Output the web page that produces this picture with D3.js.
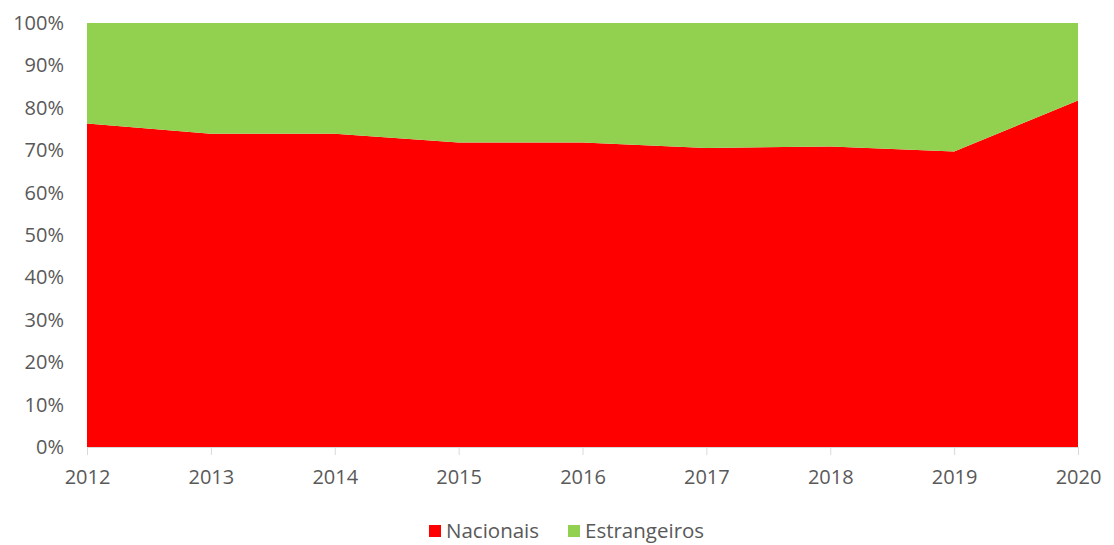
<!DOCTYPE html>
<html>
  <head>
    <meta charset="utf-8">
    <script src="https://d3js.org/d3.v7.min.js"></script>
    <style>
      body { margin: 0; background: #fff; }
      text { font-family: "Open Sans", "Liberation Sans", sans-serif; fill: #595959; }
    </style>
  </head>
  <body>
    <svg width="1114" height="545"></svg>
    <script>
    // data
    var years = [2012, 2013, 2014, 2015, 2016, 2017, 2018, 2019, 2020];
    var nacionais = [76.3, 73.9, 73.9, 71.8, 71.8, 70.5, 70.9, 69.7, 81.7];
    var estrangeiros = [23.7, 26.1, 26.1, 28.2, 28.2, 29.5, 29.1, 30.3, 18.3];
    var seriesNames = ["Nacionais", "Estrangeiros"];
    var seriesColors = ["#ff0000", "#92d050"];
    var yTicks = [0, 10, 20, 30, 40, 50, 60, 70, 80, 90, 100];

    var svg = d3.select("svg");
    var margin = {top: 23, left: 87, right: 36, bottom: 98};
    var width = 1114 - margin.left - margin.right;
    var height = 545 - margin.top - margin.bottom;

    var g = svg.append("g").attr("transform", "translate(" + margin.left + "," + margin.top + ")");

    var x = d3.scalePoint().domain(years).range([0, width]);
    var y = d3.scaleLinear().domain([0, 100]).range([height, 0]);

    // build rows for the stack
    var rows = years.map(function(yr, i) {
      return {year: yr, Nacionais: nacionais[i], Estrangeiros: estrangeiros[i]};
    });
    var stacked = d3.stack().keys(seriesNames).offset(d3.stackOffsetExpand)(rows);

    var area = d3.area()
      .x(function(d) { return x(d.data.year); })
      .y0(function(d) { return y(d[0] * 100); })
      .y1(function(d) { return y(d[1] * 100); });

    g.selectAll(".layer")
      .data(stacked)
      .enter().append("path")
        .attr("class", "layer")
        .attr("d", area)
        .attr("fill", function(d, i) { return seriesColors[i]; });

    // x axis
    var xAxis = g.append("g")
      .attr("transform", "translate(0," + height + ")")
      .call(d3.axisBottom(x).tickSize(8).tickPadding(15));
    xAxis.select(".domain").attr("stroke", "#d9d9d9");
    xAxis.selectAll(".tick line").attr("stroke", "#d9d9d9");
    xAxis.selectAll("text").attr("font-size", "20px").attr("fill", "#595959");

    // y axis labels only
    var yAxis = g.append("g")
      .call(d3.axisLeft(y).tickValues(yTicks).tickSize(0).tickPadding(23)
        .tickFormat(function(d) { return d + "%"; }));
    yAxis.select(".domain").remove();
    yAxis.selectAll("text").attr("font-size", "20px").attr("fill", "#595959");

    // legend
    var legendX = [429, 568];
    var legend = svg.append("g").selectAll("g")
      .data(seriesNames)
      .enter().append("g")
        .attr("transform", function(d, i) { return "translate(" + legendX[i] + ",525)"; });

    legend.append("rect")
      .attr("width", 12)
      .attr("height", 12)
      .attr("fill", function(d, i) { return seriesColors[i]; });

    legend.append("text")
      .attr("x", 17)
      .attr("y", 6)
      .attr("dy", "0.35em")
      .attr("font-size", "20.5px")
      .text(function(d) { return d; });
    </script>
  </body>
</html>
